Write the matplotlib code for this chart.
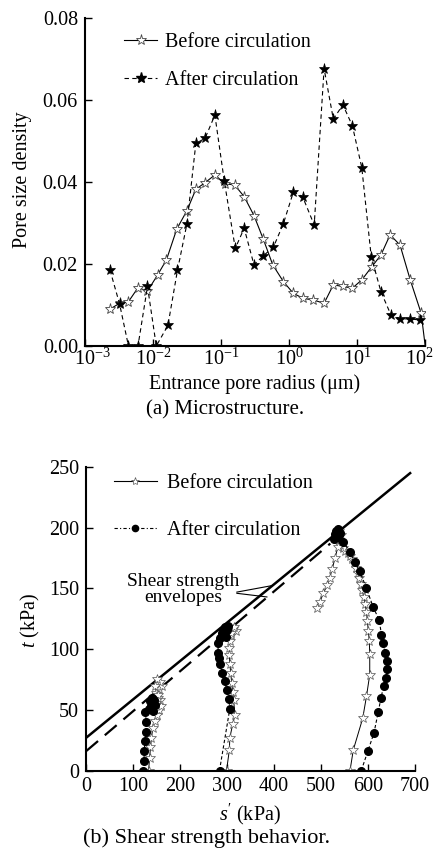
import matplotlib
matplotlib.use('Agg')
import matplotlib.pyplot as plt
import matplotlib.transforms as mtransforms
from matplotlib.lines import Line2D

plt.rcParams['font.family'] = ['Liberation Serif', 'DejaVu Serif']
plt.rcParams['mathtext.fontset'] = 'custom'
plt.rcParams['mathtext.rm'] = 'Liberation Serif'
plt.rcParams['mathtext.it'] = 'Liberation Serif:italic'
plt.rcParams['font.size'] = 14.5

# (a) pore size distribution
before_radius = [0.00234, 0.00324, 0.00437, 0.00603, 0.00832, 0.0117, 0.0158, 0.0224, 0.0316,
                 0.0427, 0.0582, 0.0813, 0.115, 0.158, 0.219, 0.305, 0.419, 0.575, 0.824,
                 1.16, 1.62, 2.28, 3.27, 4.47, 6.17, 8.51, 11.7, 16.4, 22.4, 30.5, 42.7,
                 60.3, 87.1, 100.0]
before_density = [0.0090, 0.0104, 0.0108, 0.0142, 0.0134, 0.0173, 0.0210, 0.0285, 0.0330,
                  0.0382, 0.0398, 0.0417, 0.0395, 0.0393, 0.0364, 0.0318, 0.0260, 0.0198,
                  0.0157, 0.0128, 0.0116, 0.0112, 0.0104, 0.0149, 0.0145, 0.0141, 0.0161,
                  0.0193, 0.0222, 0.0271, 0.0246, 0.0161, 0.0080, 0.0]
after_radius = [0.00234, 0.00324, 0.00437, 0.00603, 0.00832, 0.0112, 0.0166, 0.0229, 0.0316,
                0.0427, 0.0582, 0.0813, 0.112, 0.162, 0.219, 0.305, 0.419, 0.589, 0.824,
                1.16, 1.58, 2.34, 3.27, 4.47, 6.17, 8.51, 11.7, 16.1, 22.4, 31.3, 42.7,
                60.3, 85.1]
after_density = [0.0185, 0.0102, 0.0, 0.0, 0.0145, 0.0, 0.0050, 0.0184, 0.0298, 0.0494,
                 0.0506, 0.0563, 0.0401, 0.0238, 0.0287, 0.0198, 0.0220, 0.0241, 0.0298,
                 0.0376, 0.0364, 0.0295, 0.0676, 0.0553, 0.0588, 0.0537, 0.0435, 0.0218,
                 0.0132, 0.0076, 0.0066, 0.0066, 0.0063]

# (b) stress paths, s' and t in kPa
before1_s = [133, 135, 137, 139, 142, 146, 150, 156, 160, 158, 152, 148, 155, 162, 158, 150, 146, 152, 149]
before1_t = [0, 10, 19, 27, 35, 41, 46, 50, 53, 58, 60, 64, 67, 70, 73, 75, 70, 62, 56]
after1_s = [122, 123, 124, 125, 127, 128, 126, 133, 140, 146, 143, 138, 145, 141, 136]
after1_t = [0, 8, 16, 24, 32, 40, 48, 51, 55, 54, 49, 53, 58, 60, 57]
before2_s = [299, 305, 306, 312, 317, 314, 312, 310, 308, 306, 305, 305, 306, 308, 313, 319, 315, 309]
before2_t = [0, 17, 27, 38, 46, 58, 65, 72, 80, 88, 95, 101, 107, 112, 117, 115, 118, 113]
after2_s = [284, 306, 304, 299, 296, 290, 286, 282, 281, 281, 285, 289, 296, 303, 300, 294, 298, 292]
after2_t = [0, 51, 59, 66, 74, 80, 88, 93, 97, 105, 109, 113, 118, 119, 116, 112, 110, 116]
before3_s = [562, 569, 589, 597, 604, 604, 603, 601, 599, 597, 594, 591, 588, 585, 582, 579,
             575, 571, 567, 562, 557, 552, 547, 540, 535, 538, 543, 536, 530, 524, 519, 514,
             505, 498, 491]
before3_t = [0, 17, 43, 61, 79, 96, 107, 115, 123, 131, 137, 143, 149, 154, 159, 163,
             167, 171, 174, 177, 179, 181, 183, 186, 192, 197, 194, 184, 175, 166, 159, 153,
             146, 139, 134]
after3_s = [586, 600, 613, 622, 628, 634, 638, 641, 640, 636, 633, 629, 624, 611, 597, 583,
            572, 562, 548, 538, 533, 536, 530, 527, 534, 540]
after3_t = [0, 16, 31, 48, 60, 70, 76, 84, 90, 97, 105, 112, 124, 135, 150, 164,
            172, 180, 188, 194, 197, 199, 195, 191, 192, 196]

env_before_s = [0, 690]
env_before_t = [27, 245]
env_after_s = [0, 520]
env_after_t = [16, 187]

fig = plt.figure(figsize=(4.33, 8.5), dpi=100)

# ---- panel (a)
ax1 = fig.add_axes([0.196, 0.593, 0.786, 0.386])
ax1.plot(before_radius, before_density, '-', color='black', lw=0.8, marker='*',
         ms=8, mfc='white', mec='#444444', mew=0.6, markevery=list(range(len(before_radius) - 1)))
ax1.plot(after_radius, after_density, color='black', lw=0.8, ls=(0, (4, 3)), marker='*',
         ms=8, mfc='black', mec='black', mew=0.5)
ax1.set_xscale('log')
ax1.set_xlim(1e-3, 1e2)
ax1.set_ylim(0, 0.08)
ax1.set_yticks([0, 0.02, 0.04, 0.06, 0.08])
ax1.set_yticklabels(['0.00', '0.02', '0.04', '0.06', '0.08'])
ax1.set_xticks([1e-3, 1e-2, 1e-1, 1e0, 1e1, 1e2])
ax1.xaxis.set_minor_locator(matplotlib.ticker.NullLocator())
ax1.set_xlabel('Entrance pore radius (μm)')
ax1.set_ylabel('Pore size density')
ax1.xaxis.set_label_coords(0.5, -0.086)
ax1.yaxis.set_label_coords(-0.156, 0.506)
h1 = Line2D([], [], color='black', lw=0.8, marker='*', ms=8, mfc='white', mec='#444444', mew=0.6)
h2 = Line2D([], [], color='black', lw=0.8, ls=(0, (4, 3)), marker='*', ms=8, mfc='black', mec='black')
ax1.legend([h1, h2], ['Before circulation', 'After circulation'], loc='upper left',
           bbox_to_anchor=(0.062, 1.01), frameon=False, handlelength=1.65, handletextpad=0.4,
           labelspacing=0.95, fontsize=14.5)

# ---- panel (b)
ax2 = fig.add_axes([0.199, 0.0935, 0.759, 0.357])
ax2.plot(env_before_s, env_before_t, '-', color='black', lw=1.8)
ax2.plot(env_after_s, env_after_t, color='black', lw=1.6, ls=(0, (7, 4)))
for s, t in [(before1_s, before1_t), (before2_s, before2_t), (before3_s, before3_t)]:
    ax2.plot(s, t, '-', color='black', lw=0.7, marker='*', ms=7, mfc='white',
             mec='#555555', mew=0.5)
for s, t in [(after1_s, after1_t), (after2_s, after2_t), (after3_s, after3_t)]:
    ax2.plot(s, t, color='black', lw=0.8, ls=(0, (3, 2)), marker='o', ms=5.5,
             mfc='black', mec='black')
ax2.set_xlim(0, 700)
ax2.set_ylim(0, 250)
ax2.set_xticks(range(0, 701, 100))
ax2.set_yticks(range(0, 251, 50))
ax2.set_xlabel("$s'$ (kPa)")
ax2.set_ylabel('$t$ (kPa)')
ax2.xaxis.set_label_coords(0.498, -0.104)
ax2.yaxis.set_label_coords(-0.134, 0.496)
ax2.text(206, 149, 'Shear strength\nenvelopes', ha='center', va='center',
         fontsize=14, linespacing=0.9)
ax2.plot([321, 398], [147, 152.5], color='black', lw=0.8)
ax2.plot([321, 385], [146, 143], color='black', lw=0.8)
g1 = Line2D([], [], color='black', lw=0.8, marker='*', ms=6, mfc='white', mec='#555555', mew=0.5)
g2 = Line2D([], [], color='black', lw=0.8, ls=(0, (3, 2, 1, 2)), marker='o', ms=4.5,
            mfc='black', mec='black')
ax2.legend([g1, g2], ['Before circulation', 'After circulation'], loc='upper left',
           bbox_to_anchor=(0.029, 1.036), frameon=False, handlelength=2.15, handletextpad=0.5,
           labelspacing=1.35, fontsize=14.5)

for ax in (ax1, ax2):
    ax.spines['top'].set_visible(False)
    ax.spines['right'].set_visible(False)
    ax.spines['left'].set_linewidth(1.5)
    ax.spines['bottom'].set_linewidth(1.5)
    ax.tick_params(direction='in', length=5, width=1, labelsize=14.5, pad=5)
ax1.tick_params(axis='x', pad=2)

# nudge the end labels of the log axis like in the original
labels = ax1.get_xticklabels()
labels[0].set_transform(labels[0].get_transform() + mtransforms.ScaledTranslation(8 / 100, 0, fig.dpi_scale_trans))
labels[-1].set_transform(labels[-1].get_transform() + mtransforms.ScaledTranslation(-6 / 100, 0, fig.dpi_scale_trans))

fig.text(0.52, 0.518, '(a) Microstructure.', ha='center', va='center', fontsize=15)
fig.text(0.478, 0.014, '(b) Shear strength behavior.', ha='center', va='center', fontsize=16)

fig.savefig('out.png', dpi=100)
